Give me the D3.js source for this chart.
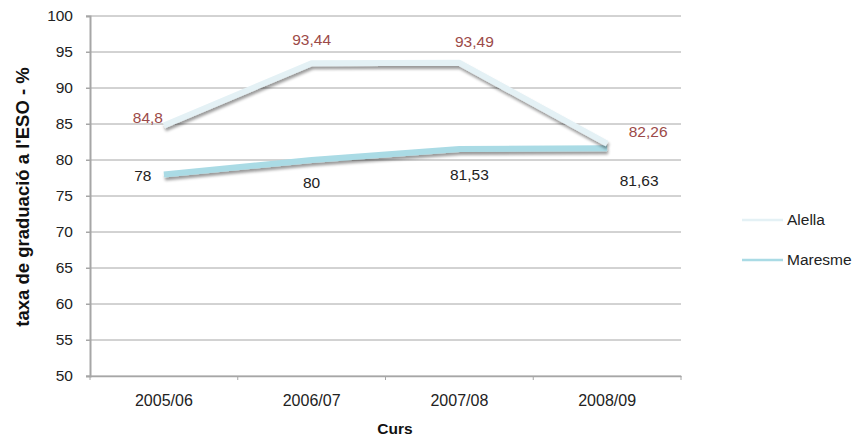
<!DOCTYPE html>
<html><head><meta charset="utf-8">
<script src="https://cdn.jsdelivr.net/npm/d3@7"></script>
<style>body{margin:0;background:#fff}svg{display:block;font-family:"Liberation Sans",Arial,Helvetica,sans-serif}</style>
</head><body><svg id="c" width="856" height="436"></svg>
<script>
const categories = ["2005/06","2006/07","2007/08","2008/09"];
const alella = [84.8, 93.44, 93.49, 82.26];
const maresme = [78, 80, 81.53, 81.63];
const yTicks = [50,55,60,65,70,75,80,85,90,95,100];
const seriesNames = ["Alella","Maresme"];

// label offsets (layout only)
const alellaLabelOff = [[-16,-8],[0,-24],[15,-21],[41,-12]];
const maresmeLabelOff = [[-21,1],[0,23],[10,26],[32,32]];

const FS = 15.5;
const svg = d3.select("#c");
const m = {l:90, r:681, t:16, b:376};
const x = d3.scaleBand().domain(categories).range([m.l, m.r]);
const y = d3.scaleLinear().domain([50,100]).range([m.b, m.t]);

const defs = svg.append("defs");
const f = defs.append("filter").attr("id","sh").attr("x","-10%").attr("y","-50%").attr("width","120%").attr("height","200%");
f.append("feGaussianBlur").attr("in","SourceAlpha").attr("stdDeviation",1.4).attr("result","b");
f.append("feOffset").attr("in","b").attr("dx",1).attr("dy",2.5).attr("result","o");
f.append("feComponentTransfer").attr("in","o").attr("result","o2").append("feFuncA").attr("type","linear").attr("slope",0.4);
const mg = f.append("feMerge"); mg.append("feMergeNode").attr("in","o2"); mg.append("feMergeNode").attr("in","SourceGraphic");

// gridlines
svg.append("g").selectAll("line").data(yTicks).join("line")
  .attr("x1", m.l-4).attr("x2", m.r).attr("y1", d=>y(d)).attr("y2", d=>y(d))
  .attr("stroke","#a6a6a6").attr("stroke-width",1);

// y axis
const ya = svg.append("g").attr("transform",`translate(${m.l},0)`).call(d3.axisLeft(y).tickValues(yTicks).tickSize(4).tickPadding(13));
ya.select(".domain").attr("stroke","#a6a6a6").attr("stroke-width",2);
ya.selectAll(".tick line").attr("stroke","#a6a6a6");
ya.selectAll("text").attr("font-size",FS).attr("fill","#222").attr("font-family","Liberation Sans, Arial, sans-serif");

// x axis
const xa = svg.append("g").attr("transform",`translate(0,${m.b})`).call(d3.axisBottom(x).tickSize(0).tickPadding(19));
xa.select(".domain").attr("stroke","#a6a6a6").attr("stroke-width",1.5);
xa.selectAll("text").attr("font-size",16).attr("fill","#222").attr("font-family","Liberation Sans, Arial, sans-serif");
const bounds = categories.map(c=>x(c)).concat([m.r]);
svg.append("g").selectAll("line").data(bounds).join("line")
  .attr("x1",d=>d).attr("x2",d=>d).attr("y1",m.b).attr("y2",m.b+4).attr("stroke","#a6a6a6");

// titles
svg.append("text").attr("transform",`translate(29,${(m.t+m.b)/2+1}) rotate(-90)`).attr("text-anchor","middle")
  .attr("font-size",18.5).attr("font-weight","bold").attr("fill","#111").text("taxa de graduació a l'ESO - %");
svg.append("text").attr("x",395).attr("y",434).attr("text-anchor","middle")
  .attr("font-size",15.5).attr("font-weight","bold").attr("fill","#111").text("Curs");

const line = d3.line().x((d,i)=>x(categories[i])+x.bandwidth()/2).y(d=>y(d));
svg.append("path").datum(maresme).attr("d",line).attr("fill","none").attr("stroke","#aadbe5").attr("stroke-width",6).attr("stroke-linejoin","round").attr("filter","url(#sh)");
svg.append("path").datum(alella).attr("d",line).attr("fill","none").attr("stroke","#e4f1f5").attr("stroke-width",6).attr("stroke-linejoin","round").attr("filter","url(#sh)");

const fmt = v => String(v).replace(".",",");
svg.append("g").selectAll("text").data(alella).join("text")
  .attr("x",(d,i)=>x(categories[i])+x.bandwidth()/2+alellaLabelOff[i][0])
  .attr("y",(d,i)=>y(d)+alellaLabelOff[i][1]).attr("dy","0.35em").attr("text-anchor","middle")
  .attr("font-size",FS).attr("fill","#9c4a48").text(fmt);
svg.append("g").selectAll("text").data(maresme).join("text")
  .attr("x",(d,i)=>x(categories[i])+x.bandwidth()/2+maresmeLabelOff[i][0])
  .attr("y",(d,i)=>y(d)+maresmeLabelOff[i][1]).attr("dy","0.35em").attr("text-anchor","middle")
  .attr("font-size",FS).attr("fill","#222").text(fmt);

// legend
const lg = svg.append("g");
const lcols = ["#e4f1f5","#aadbe5"];
seriesNames.forEach((n,i)=>{
  const ly = 220 + i*40;
  lg.append("line").attr("x1",742).attr("x2",783).attr("y1",ly).attr("y2",ly).attr("stroke",lcols[i]).attr("stroke-width",2.5);
  lg.append("text").attr("x",787).attr("y",ly).attr("dy","0.35em").attr("font-size",FS).attr("fill","#222").text(n);
});
</script></body></html>
